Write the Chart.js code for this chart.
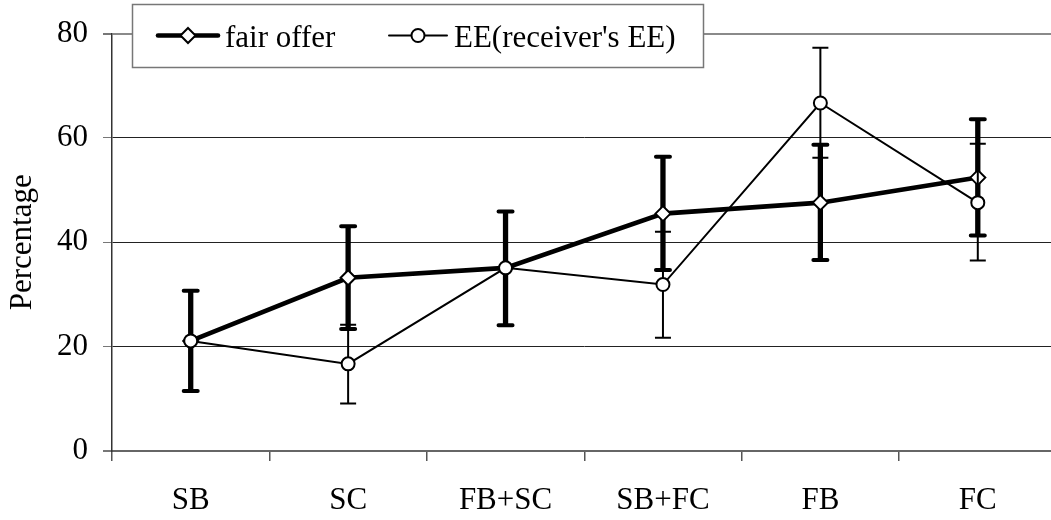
<!DOCTYPE html>
<html>
<head>
<meta charset="utf-8">
<script src="https://cdn.jsdelivr.net/npm/chart.js@4/dist/chart.umd.min.js"></script>
<style>
  html, body { margin: 0; padding: 0; background: #fff; overflow: hidden; }
  #wrap { width: 1066px; height: 520px; }
</style>
</head>
<body>
<div id="wrap"><canvas id="c" width="1066" height="520"></canvas></div>
<script>
const categories = ['SB', 'SC', 'FB+SC', 'SB+FC', 'FB', 'FC'];
const yTicks = [0, 20, 40, 60, 80];

const fairOffer     = [21.1, 33.2, 35.1, 45.5, 47.6, 52.4];
const fairOfferLow  = [11.5, 23.4, 24.1, 34.7, 36.6, 41.3];
const fairOfferHigh = [30.7, 43.1, 45.9, 56.4, 58.7, 63.6];

const ee     = [21.1, 16.7, 35.1, 31.9, 66.7, 47.6];
const eeLow  = [11.5,  9.1, 24.1, 21.7, 56.2, 36.5];
const eeHigh = [30.7, 24.2, 45.9, 42.0, 77.3, 58.9];

const seriesNames = ['fair offer', "EE(receiver's EE)"];

const FONT = { family: "'Liberation Serif', 'Times New Roman', serif", size: 31 };

const errorBars = {
  id: 'errorBars',
  beforeDatasetDraw(chart, args) {
    const ds = chart.data.datasets[args.index];
    if (!ds.errLow) return;
    const ys = chart.scales.y;
    const ctx = chart.ctx;
    const thick = ds.errThick;
    ctx.save();
    ctx.strokeStyle = '#000';
    args.meta.data.forEach((pt, i) => {
      const x = pt.x;
      const yl = ys.getPixelForValue(ds.errLow[i]);
      const yh = ys.getPixelForValue(ds.errHigh[i]);
      ctx.lineCap = 'butt';
      ctx.lineWidth = thick ? 5.3 : 2;
      ctx.beginPath();
      ctx.moveTo(x, yl); ctx.lineTo(x, yh);
      ctx.stroke();
      ctx.lineCap = thick ? 'round' : 'butt';
      ctx.lineWidth = thick ? 4 : 2;
      const hw = thick ? 7 : 8;
      ctx.beginPath();
      ctx.moveTo(x - hw, yl); ctx.lineTo(x + hw, yl);
      ctx.moveTo(x - hw, yh); ctx.lineTo(x + hw, yh);
      ctx.stroke();
    });
    ctx.restore();
  }
};

const boxLegend = {
  id: 'boxLegend',
  afterDraw(chart) {
    const ctx = chart.ctx;
    const dss = chart.data.datasets;
    ctx.save();
    ctx.fillStyle = '#fff';
    ctx.fillRect(132, 4, 572, 64);
    ctx.strokeStyle = '#777';
    ctx.lineWidth = 1.5;
    ctx.strokeRect(132.5, 4.5, 571, 63);
    const cy = 35.5;
    const items = [
      { ds: dss[0], x0: 158, x1: 218, text: 225 },
      { ds: dss[1], x0: 389, x1: 447, text: 454 }
    ];
    items.forEach(it => {
      const ds = it.ds;
      ctx.strokeStyle = ds.borderColor;
      ctx.lineWidth = ds.borderWidth;
      ctx.lineCap = 'round';
      ctx.beginPath();
      ctx.moveTo(it.x0, cy); ctx.lineTo(it.x1, cy);
      ctx.stroke();
      const mx = (it.x0 + it.x1) / 2;
      const r = ds.pointRadius;
      ctx.fillStyle = '#fff';
      ctx.strokeStyle = '#000';
      ctx.lineWidth = ds.pointBorderWidth;
      ctx.beginPath();
      if (ds.pointStyle === 'rectRot') {
        ctx.moveTo(mx, cy - r); ctx.lineTo(mx + r, cy);
        ctx.lineTo(mx, cy + r); ctx.lineTo(mx - r, cy);
        ctx.closePath();
      } else {
        ctx.arc(mx, cy, r, 0, Math.PI * 2);
      }
      ctx.fill(); ctx.stroke();
      ctx.fillStyle = '#000';
      ctx.font = FONT.size + 'px ' + FONT.family;
      ctx.textBaseline = 'middle';
      ctx.textAlign = 'left';
      ctx.fillText(ds.label, it.text, cy + 3);
    });
    ctx.restore();
  }
};

new Chart(document.getElementById('c'), {
  type: 'line',
  data: {
    labels: categories,
    datasets: [
      {
        label: seriesNames[0],
        data: fairOffer,
        errLow: fairOfferLow, errHigh: fairOfferHigh, errThick: true,
        borderColor: '#000', borderWidth: 4.6,
        pointStyle: 'rectRot', pointRadius: 7.5, pointBorderWidth: 2,
        pointBackgroundColor: '#fff', pointBorderColor: '#000',
        tension: 0, order: 2
      },
      {
        label: seriesNames[1],
        data: ee,
        errLow: eeLow, errHigh: eeHigh, errThick: false,
        borderColor: '#000', borderWidth: 2,
        pointStyle: 'circle', pointRadius: 6.5, pointBorderWidth: 2,
        pointBackgroundColor: '#fff', pointBorderColor: '#000',
        tension: 0, order: 1
      }
    ]
  },
  options: {
    responsive: false,
    animation: false,
    devicePixelRatio: 1,
    layout: { padding: { top: 31, left: 0, right: 0, bottom: 0 } },
    plugins: { legend: { display: false }, tooltip: { enabled: false } },
    scales: {
      x: {
        type: 'category',
        offset: true,
        grid: { drawOnChartArea: false, drawTicks: true, tickLength: 10, color: '#555', lineWidth: 1.5, offset: true },
        border: { color: '#666', width: 2 },
        ticks: { font: FONT, color: '#000', padding: 21, maxRotation: 0, autoSkip: false },
        afterFit(s) { s.height = 69; }
      },
      y: {
        min: 0, max: 80,
        afterBuildTicks(s) { s.ticks = yTicks.map(v => ({ value: v })); },
        ticks: { font: FONT, color: '#000', padding: 15 },
        grid: {
          tickLength: 9,
          color: c => c.tick && c.tick.value === 80 ? '#8a8a8a' : (c.tick && c.tick.value === 0 ? '#666' : '#222'),
          lineWidth: c => c.tick && (c.tick.value === 80 || c.tick.value === 0) ? 2 : 1,
          tickColor: '#777'
        },
        border: { color: '#333', width: 1.5 },
        title: { display: true, text: 'Percentage', font: FONT, color: '#000', padding: { top: 4, bottom: 0 } },
        afterFit(s) { s.width = 112; }
      }
    }
  },
  plugins: [errorBars, boxLegend]
});
</script>
</body>
</html>
